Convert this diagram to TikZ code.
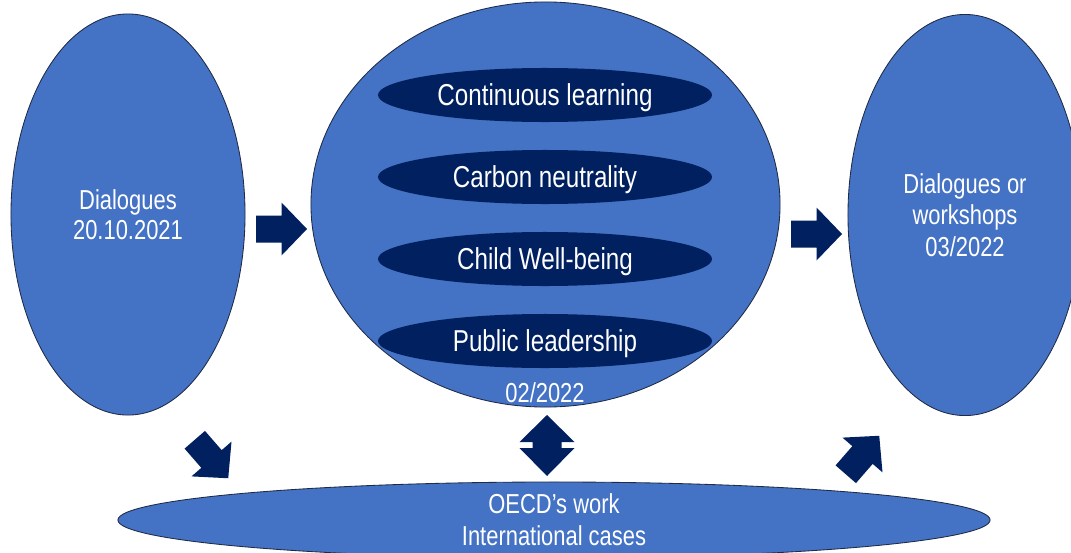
\documentclass[tikz,border=0pt]{standalone}
\usepackage{fontspec}
\setmainfont{Liberation Sans}[FakeStretch=0.8]
\usetikzlibrary{shapes.geometric}
\definecolor{ovalblue}{HTML}{4472C4}
\definecolor{navy}{HTML}{002060}
\definecolor{ovalline}{HTML}{1F2A44}
\tikzset{
	pics/blockarr/.style={code={
		\fill[navy] (-25.5,-13.5) -- (0,-13.5) -- (0,-26.5) -- (25.5,0) -- (0,26.5) -- (0,13.5) -- (-25.5,13.5) -- cycle;
	}}
}
\begin{document}
\begin{tikzpicture}[x=0.025cm,y=-0.025cm,
	bigoval/.style={ellipse, inner sep=0pt, fill=ovalblue, draw=ovalline, line width=0.6pt, text=white, align=center, font=\fontsize{19.5}{21}\selectfont},
	topic/.style={ellipse, inner sep=0pt, fill=navy, text=white, text depth=0pt, minimum width=8.35cm, minimum height=1.35cm, font=\fontsize{21.5}{26}\selectfont}]
	\useasboundingbox (0,0) rectangle (1071,552);
	\clip (0,0) rectangle (1071,552);
	\def\ytop{95};
	\def\ystep{82};
	% the three rounds
	\node[bigoval, minimum width=5.85cm, minimum height=10.025cm] (dlg) at (128,214.5) {Dialogues\\20.10.2021};
	\node[bigoval, minimum width=11.725cm, minimum height=10.125cm] (mid) at (545.5,204.5) {};
	\node[bigoval, minimum width=5.85cm, minimum height=10.025cm, font=\fontsize{19.5}{22.5}\selectfont] (wsh) at (965,215) {Dialogues or\\workshops\\03/2022};
	\node[bigoval, minimum width=21.8cm, minimum height=1.9cm, font=\fontsize{19.5}{22.5}\selectfont] (oecd) at (554,520) {OECD’s work\\International cases};
	\foreach \t [count=\i from 0] in {Continuous learning, Carbon neutrality, Child Well-being, Public leadership}
		\node[topic] (topic\i) at (545,{\ytop+\ystep*\i}) {\t};
	\node[text=white, text depth=0pt, font=\fontsize{19.5}{21}\selectfont] (date) at (545,392.5) {02/2022};
	% block arrows
	\pic at (281.5,229) {blockarr};
	\pic at (816.5,234) {blockarr};
	\pic[rotate=-49] at (211.5,459) {blockarr};
	\pic[rotate=49] at (862.5,455) {blockarr};
	\fill[navy] (547,415) -- (574.5,442) -- (561.5,442) -- (561.5,448) -- (574.5,448) -- (547,476) -- (519.5,448) -- (532.5,448) -- (532.5,442) -- (519.5,442) -- cycle;
\end{tikzpicture}
\end{document}
